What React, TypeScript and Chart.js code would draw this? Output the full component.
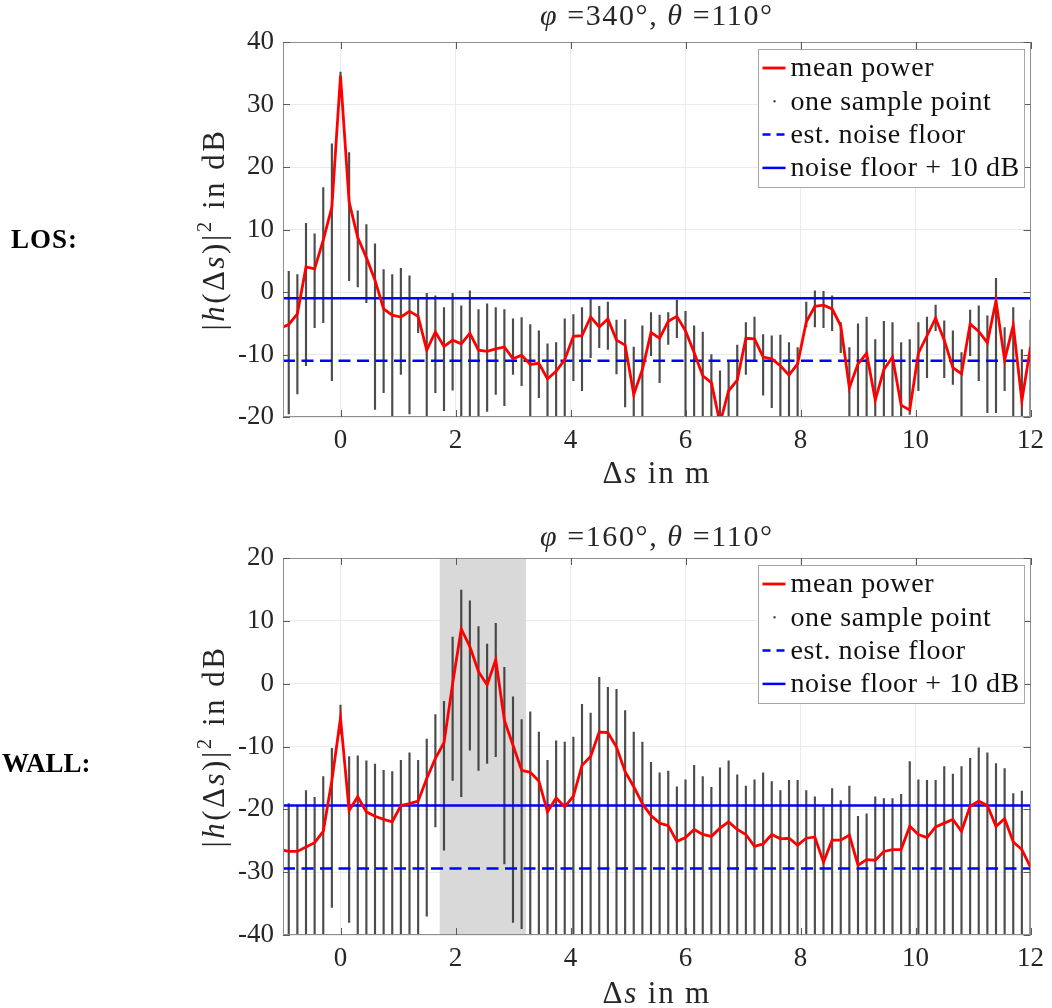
import React, { useEffect, useRef } from 'react';
import { Chart, registerables } from 'chart.js';

Chart.register(...registerables);

// ---------------- data ----------------
const xPositions = [
  -1.05, -0.9, -0.75, -0.6, -0.45, -0.3, -0.15, 0, 0.15, 0.3,
  0.45, 0.6, 0.75, 0.9, 1.05, 1.2, 1.35, 1.5, 1.65, 1.8,
  1.95, 2.1, 2.25, 2.4, 2.55, 2.7, 2.85, 3, 3.15, 3.3,
  3.45, 3.6, 3.75, 3.9, 4.05, 4.2, 4.35, 4.5, 4.65, 4.8,
  4.95, 5.1, 5.25, 5.4, 5.55, 5.7, 5.85, 6, 6.15, 6.3,
  6.45, 6.6, 6.75, 6.9, 7.05, 7.2, 7.35, 7.5, 7.65, 7.8,
  7.95, 8.1, 8.25, 8.4, 8.55, 8.7, 8.85, 9, 9.15, 9.3,
  9.45, 9.6, 9.75, 9.9, 10.05, 10.2, 10.35, 10.5, 10.65, 10.8,
  10.95, 11.1, 11.25, 11.4, 11.55, 11.7, 11.85, 12,
];

// LOS panel
const losMeanPower = [
  -5.8, -5.2, -3.5, 4.0, 3.7, 8.3, 13.6, 34.6, 14.4, 8.7,
  5.5, 1.9, -2.7, -3.7, -4.0, -3.1, -3.9, -9.3, -6.4, -8.7,
  -7.7, -8.3, -6.6, -9.3, -9.5, -9.1, -8.8, -10.7, -10.1, -11.6,
  -11.4, -13.9, -12.7, -10.8, -7.1, -7.0, -4.0, -5.6, -4.3, -7.7,
  -8.5, -16.4, -12.4, -6.5, -7.4, -4.7, -3.9, -6.2, -9.7, -13.4,
  -14.5, -21.0, -15.8, -14.1, -7.4, -7.5, -10.4, -10.7, -11.8, -13.3,
  -11.5, -4.8, -2.3, -2.1, -2.7, -5.4, -15.3, -11.5, -9.8, -17.3,
  -12.4, -10.4, -18.1, -18.9, -9.8, -7.0, -4.2, -7.7, -12.1, -13.1,
  -5.1, -6.3, -8.1, -1.4, -10.9, -5.3, -17.4, -8.8,
];
const losSampleMax = [
  null, 3.3, 2.8, 11.0, 9.3, 16.7, 23.7, 35.2, 22.3, 13.0,
  10.8, 7.7, 3.6, 2.8, 3.8, 2.6, -1.0, -0.2, -0.6, -2.5,
  -0.2, -2.2, 0.2, -2.8, -1.9, -2.5, -2.8, -4.3, -4.1, -5.2,
  -6.2, -8.3, -8.1, -4.3, -3.6, -2.5, -1.0, -2.3, -1.6, -4.5,
  -4.4, -8.8, -5.4, -3.3, -3.7, -3.3, -1.3, -3.1, -5.4, -6.4,
  -10.0, -12.6, -11.0, -8.5, -4.9, -4.0, -6.8, -7.0, -6.9, -8.1,
  -8.9, -1.6, 0.2, 0.1, -0.6, -4.9, -8.9, -5.1, -4.0, -7.6,
  -4.7, -4.9, -8.1, -7.6, -4.9, -4.0, -2.1, -4.6, -6.2, -9.7,
  -2.9, -2.2, -3.8, 2.2, -5.7, -2.5, -9.2, -4.5,
];
const losSampleMin = [
  null, -19.5, -16.3, -11.8, -5.7, -4.9, -14.2, 33.5, 1.8, 0.8,
  -1.7, -18.8, -16.1, -21, -13.2, -19.5, -6.5, -21, -16.1, -19.0,
  -15.7, -21, -19.8, -21, -19.1, -16.4, -18.2, -13.2, -15.0, -21,
  -16.9, -21, -21, -21, -14.2, -15.8, -10.5, -8.9, -9.2, -13.1,
  -18.4, -21, -21, -10.2, -14.5, -8.4, -7.3, -21, -21, -21,
  -21, -21, -21, -21, -13.2, -11.0, -16.5, -18.5, -21, -21,
  -21, -5.6, -5.6, -5.7, -6.2, -9.7, -21, -21, -21, -21,
  -21, -21, -21, -19.6, -15.8, -13.7, -6.2, -13.7, -14.8, -21,
  -10.2, -14.2, -19.3, -19.3, -15.8, -21, -21, -21,
];
const losNoiseFloor = -11.0;
const losYTicks = [-20, -10, 0, 10, 20, 30, 40];
const losAngles = ['340°', '110°'];

// WALL panel
const wallMeanPower = [
  -26.4, -26.7, -26.7, -26.0, -25.3, -23.5, -15.4, -5.5, -20.2, -18.0,
  -20.4, -21.1, -21.6, -22.0, -19.4, -19.1, -18.7, -15.1, -11.9, -9.4,
  0.0, 8.7, 5.9, 1.9, -0.2, 3.8, -5.8, -9.8, -13.8, -14.1,
  -15.5, -20.4, -18.2, -19.6, -17.9, -13.0, -11.6, -7.7, -7.8, -10.1,
  -14.0, -16.4, -19.1, -21.0, -22.2, -22.6, -25.1, -24.5, -23.2, -24.0,
  -24.3, -23.0, -22.0, -23.2, -24.0, -25.9, -25.5, -24.0, -24.7, -24.6,
  -25.7, -24.6, -24.4, -28.4, -24.9, -24.9, -24.1, -28.9, -28.0, -28.1,
  -26.7, -26.4, -26.4, -22.7, -24.0, -24.5, -22.8, -22.2, -21.6, -23.5,
  -19.5, -18.7, -19.4, -22.7, -21.5, -25.2, -26.4, -29.2,
];
const wallSampleMax = [
  null, -19.1, -19.4, -17.0, -18.1, -14.8, -10.3, -3.4, -11.6, -11.5,
  -12.3, -12.8, -13.8, -14.0, -12.2, -11.0, -12.2, -8.8, -4.9, -2.8,
  7.4, 14.9, 13.2, 9.1, 6.3, 9.6, 2.6, -2.1, -5.7, -4.5,
  -7.7, -12.2, -9.1, -9.3, -8.5, -3.3, -4.7, 1.0, -0.6, -0.9,
  -4.3, -7.7, -9.3, -12.5, -14.2, -13.9, -16.4, -15.3, -13.0, -14.8,
  -16.5, -13.4, -12.3, -14.5, -16.3, -15.3, -14.2, -15.6, -17.0, -15.4,
  -15.4, -17.0, -18.0, -19.6, -16.7, -18.6, -16.3, -21.1, -20.7, -18.0,
  -18.3, -18.3, -17.6, -12.4, -15.3, -15.4, -15.4, -13.2, -14.4, -13.2,
  -11.9, -10.2, -11.0, -12.7, -13.5, -17.5, -17.1, -19.6,
];
const wallSampleMin = [
  null, -41, -41, -41, -41, -41, -35.6, -8.0, -38.0, -41,
  -41, -41, -41, -41, -41, -41, -41, -37.0, -22.8, -26.5,
  -15.4, -18.0, -10.6, -13.8, -12.7, -11.6, -28.7, -38.0, -39.0, -41,
  -41, -41, -41, -41, -41, -41, -41, -41, -41, -41,
  -41, -41, -41, -41, -41, -41, -41, -41, -41, -41,
  -41, -41, -41, -41, -41, -41, -41, -41, -41, -41,
  -41, -41, -41, -41, -41, -41, -41, -41, -41, -41,
  -41, -41, -41, -41, -41, -41, -41, -41, -41, -41,
  -41, -41, -41, -41, -41, -41, -41, -41,
];
const wallNoiseFloor = -29.4;
const wallYTicks = [-40, -30, -20, -10, 0, 10, 20];
const wallAngles = ['160°', '110°'];
const wallShadeRange = [1.725, 3.225];

const noiseMargin = 10;
const xTicks = [0, 2, 4, 6, 8, 10, 12];
const xRange = [-1, 12];
const legendLabels = ['mean power', 'one sample point', 'est. noise floor', 'noise floor + 10 dB'];
const rowLabels = ['LOS:', 'WALL:'];

// ---------------- drawing helpers ----------------
const FONT = '"Liberation Serif", "Times New Roman", serif';
const TEXT_COLOR = '#262626';

type Seg = { t: string; it?: boolean; sup?: boolean };

function drawRich(
  ctx: CanvasRenderingContext2D,
  segs: Seg[],
  cx: number,
  cy: number,
  size: number,
  rotate = false,
  spacing = 0
) {
  ctx.save();
  ctx.translate(cx, cy);
  if (rotate) ctx.rotate(-Math.PI / 2);
  const anyCtx = ctx as any;
  if ('letterSpacing' in anyCtx) anyCtx.letterSpacing = `${spacing}px`;
  const fontOf = (s: Seg) => `${s.it ? 'italic ' : ''}${s.sup ? Math.round(size * 0.68) : size}px ${FONT}`;
  const widths = segs.map((s) => {
    ctx.font = fontOf(s);
    return ctx.measureText(s.t).width;
  });
  const total = widths.reduce((a, b) => a + b, 0);
  let x = -total / 2;
  ctx.textBaseline = 'alphabetic';
  ctx.textAlign = 'left';
  ctx.fillStyle = TEXT_COLOR;
  const base = size * 0.33;
  segs.forEach((s, i) => {
    ctx.font = fontOf(s);
    ctx.fillText(s.t, x, base - (s.sup ? size * 0.42 : 0));
    x += widths[i];
  });
  ctx.restore();
}

type PanelCfg = {
  top: number;
  height: number;
  padTop: number;
  padBottom: number;
  mean: number[];
  hi: (number | null)[];
  lo: (number | null)[];
  noise: number;
  yTicks: number[];
  angles: string[];
  shade?: number[];
  titleY: number;
  xLabelY: number;
};

function buildConfig(p: PanelCfg): any {
  const yMin = p.yTicks[0];
  const yMax = p.yTicks[p.yTicks.length - 1];
  const samples = xPositions
    .map((x, i) => (p.hi[i] == null || p.lo[i] == null ? null : { x, y: [p.lo[i], p.hi[i]] }))
    .filter((d) => d !== null);
  const tickFont = { family: FONT, size: 27 };

  const decorPlugin = {
    id: 'decor',
    beforeDatasetsDraw(chart: any) {
      if (!p.shade) return;
      const { ctx, chartArea, scales } = chart;
      const x1 = scales.x.getPixelForValue(p.shade[0]);
      const x2 = scales.x.getPixelForValue(p.shade[1]);
      ctx.save();
      ctx.fillStyle = '#d9d9d9';
      ctx.fillRect(x1, chartArea.top, x2 - x1, chartArea.bottom - chartArea.top);
      ctx.restore();
    },
    afterDraw(chart: any) {
      const { ctx, chartArea, scales } = chart;
      const { left, right, top, bottom } = chartArea;
      ctx.save();
      // frame
      ctx.strokeStyle = '#8f8f8f';
      ctx.lineWidth = 1;
      ctx.strokeRect(Math.round(left) + 0.5, Math.round(top) + 0.5, Math.round(right - left) - 1, Math.round(bottom - top) - 1);
      // inward ticks
      ctx.strokeStyle = '#5a5a5a';
      ctx.beginPath();
      xTicks.forEach((v) => {
        const px = Math.round(scales.x.getPixelForValue(v)) + 0.5;
        ctx.moveTo(px, bottom);
        ctx.lineTo(px, bottom - 7);
        ctx.moveTo(px, top);
        ctx.lineTo(px, top + 7);
      });
      p.yTicks.forEach((v) => {
        const py = Math.round(scales.y.getPixelForValue(v)) + 0.5;
        ctx.moveTo(left, py);
        ctx.lineTo(left + 7, py);
        ctx.moveTo(right, py);
        ctx.lineTo(right - 7, py);
      });
      ctx.stroke();

      // legend
      const bw = 266;
      const bh = 138;
      const bx = Math.round(right - 7 - bw) + 0.5;
      const by = Math.round(top + 7) + 0.5;
      ctx.fillStyle = '#ffffff';
      ctx.fillRect(bx, by, bw, bh);
      ctx.strokeStyle = '#a6a6a6';
      ctx.lineWidth = 1;
      ctx.strokeRect(bx, by, bw, bh);
      const ds = chart.data.datasets;
      legendLabels.forEach((lab, i) => {
        const cy = by + 18.5 + i * 33.3;
        const d = ds[i];
        if (d.type === 'line') {
          ctx.beginPath();
          ctx.strokeStyle = d.borderColor;
          ctx.lineWidth = d.borderWidth;
          ctx.setLineDash(d.borderDash ? [8, 6] : []);
          ctx.moveTo(bx + 4, cy);
          ctx.lineTo(bx + 27, cy);
          ctx.stroke();
          ctx.setLineDash([]);
        } else {
          ctx.fillStyle = '#222';
          ctx.fillRect(bx + 15, cy - 1, 2, 2);
        }
        ctx.fillStyle = '#111';
        ctx.font = `28px ${FONT}`;
        ctx.textBaseline = 'middle';
        ctx.textAlign = 'left';
        const anyCtx = ctx as any;
        if ('letterSpacing' in anyCtx) anyCtx.letterSpacing = '0.6px';
        ctx.fillText(lab, bx + 32, cy + 1);
        if ('letterSpacing' in anyCtx) anyCtx.letterSpacing = '0px';
      });
      ctx.restore();

      // texts
      const cx = (left + right) / 2;
      drawRich(ctx, [{ t: 'φ', it: true }, { t: ' =' + p.angles[0] + ', ' }, { t: 'θ', it: true }, { t: ' =' + p.angles[1] }], cx, p.titleY, 30, false, 1.6);
      drawRich(ctx, [{ t: 'Δ' }, { t: 's', it: true }, { t: ' in m' }], cx, p.xLabelY, 31, false, 1.8);
      drawRich(
        ctx,
        [{ t: '|' }, { t: 'h', it: true }, { t: '(Δ' }, { t: 's', it: true }, { t: ')|' }, { t: '2', sup: true }, { t: ' in dB' }],
        214,
        (top + bottom) / 2,
        31,
        true,
        2.5
      );
    },
  };

  return {
    type: 'bar',
    data: {
      datasets: [
        {
          type: 'line',
          label: legendLabels[0],
          data: xPositions.map((x, i) => ({ x, y: p.mean[i] })),
          borderColor: '#ff0000',
          borderWidth: 2.8,
          pointRadius: 0,
          tension: 0,
          order: 1,
        },
        {
          type: 'bar',
          label: legendLabels[1],
          data: samples,
          backgroundColor: 'rgba(45,45,45,0.85)',
          barThickness: 1.5,
          order: 4,
        },
        {
          type: 'line',
          label: legendLabels[2],
          data: [
            { x: xRange[0], y: p.noise },
            { x: xRange[1], y: p.noise },
          ],
          borderColor: '#0000ff',
          borderWidth: 2.5,
          borderDash: [12, 6.5],
          pointRadius: 0,
          order: 3,
        },
        {
          type: 'line',
          label: legendLabels[3],
          data: [
            { x: xRange[0], y: p.noise + noiseMargin },
            { x: xRange[1], y: p.noise + noiseMargin },
          ],
          borderColor: '#0000ff',
          borderWidth: 2.5,
          pointRadius: 0,
          order: 2,
        },
      ],
    },
    options: {
      responsive: false,
      animation: false,
      devicePixelRatio: 1,
      layout: { padding: { top: p.padTop, right: 18, bottom: p.padBottom, left: 0 } },
      plugins: { legend: { display: false }, tooltip: { enabled: false }, title: { display: false } },
      scales: {
        x: {
          type: 'linear',
          min: xRange[0],
          max: xRange[1],
          offset: false,
          afterBuildTicks: (s: any) => {
            s.ticks = xTicks.map((v) => ({ value: v }));
          },
          afterFit: (s: any) => {
            s.height = 40;
          },
          grid: { color: '#ebebeb', drawTicks: false, offset: false },
          border: { display: false },
          ticks: { font: tickFont, color: TEXT_COLOR, padding: 8, maxRotation: 0, autoSkip: false },
        },
        y: {
          type: 'linear',
          min: yMin,
          max: yMax,
          afterBuildTicks: (s: any) => {
            s.ticks = p.yTicks.map((v) => ({ value: v }));
          },
          afterFit: (s: any) => {
            s.width = 283;
          },
          grid: { color: '#ebebeb', drawTicks: false },
          border: { display: false },
          ticks: { font: tickFont, color: TEXT_COLOR, padding: 9, autoSkip: false },
        },
      },
    },
    plugins: [decorPlugin],
  };
}

function Panel({ cfg }: { cfg: PanelCfg }) {
  const ref = useRef<HTMLCanvasElement>(null);
  useEffect(() => {
    const chart = new Chart(ref.current as HTMLCanvasElement, buildConfig(cfg));
    return () => chart.destroy();
  }, []);
  return (
    <canvas
      ref={ref}
      width={1052}
      height={cfg.height}
      style={{ position: 'absolute', left: 0, top: cfg.top, width: 1052, height: cfg.height }}
    />
  );
}

const losCfg: PanelCfg = {
  top: 0,
  height: 504,
  padTop: 42,
  padBottom: 47,
  mean: losMeanPower,
  hi: losSampleMax,
  lo: losSampleMin,
  noise: losNoiseFloor,
  yTicks: losYTicks,
  angles: losAngles,
  titleY: 15,
  xLabelY: 473,
};

const wallCfg: PanelCfg = {
  top: 504,
  height: 504,
  padTop: 54,
  padBottom: 33,
  mean: wallMeanPower,
  hi: wallSampleMax,
  lo: wallSampleMin,
  noise: wallNoiseFloor,
  yTicks: wallYTicks,
  angles: wallAngles,
  shade: wallShadeRange,
  titleY: 32,
  xLabelY: 489,
};

export default function App() {
  const labelStyle: React.CSSProperties = {
    position: 'absolute',
    fontFamily: FONT,
    fontWeight: 'bold',
    fontSize: 27,
    lineHeight: '27px',
    color: '#000',
    whiteSpace: 'nowrap',
  };
  return (
    <div style={{ position: 'absolute', left: 0, top: 0, width: 1052, height: 1008, background: '#ffffff', overflow: 'hidden' }}>
      <Panel cfg={losCfg} />
      <Panel cfg={wallCfg} />
      <div style={{ ...labelStyle, left: 11, top: 226, letterSpacing: '1px' }}>{rowLabels[0]}</div>
      <div style={{ ...labelStyle, left: 2, top: 750 }}>{rowLabels[1]}</div>
    </div>
  );
}
